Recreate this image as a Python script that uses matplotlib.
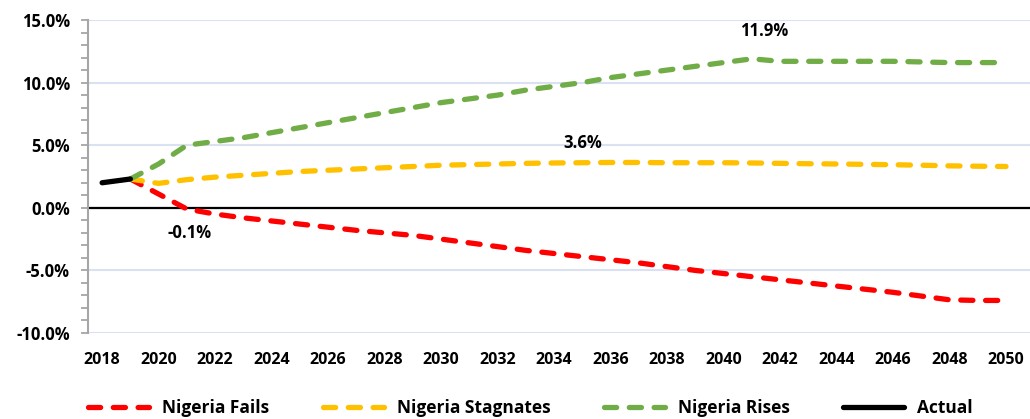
import matplotlib
matplotlib.use("Agg")
import matplotlib.pyplot as plt
from matplotlib.ticker import MultipleLocator, FuncFormatter
from matplotlib.lines import Line2D

plt.rcParams['font.family'] = ['Open Sans', 'DejaVu Sans']
plt.rcParams['font.weight'] = 'bold'

years = list(range(2019, 2051))
actual_years = [2018, 2019]
actual = [2.0, 2.3]

fails = [2.3, 1.1, -0.1, -0.5, -0.8, -1.05, -1.3, -1.55, -1.8, -2.0, -2.2, -2.5,
         -2.8, -3.1, -3.4, -3.65, -3.9, -4.15, -4.4, -4.7, -5.0, -5.25, -5.5,
         -5.75, -6.0, -6.25, -6.5, -6.75, -7.05, -7.35, -7.4, -7.4]
stagnates = [2.3, 1.95, 2.25, 2.45, 2.6, 2.75, 2.9, 3.0, 3.1, 3.2, 3.3, 3.4,
             3.45, 3.5, 3.55, 3.58, 3.6, 3.62, 3.62, 3.6, 3.6, 3.6, 3.58,
             3.55, 3.52, 3.5, 3.47, 3.44, 3.4, 3.35, 3.32, 3.3]
rises = [2.3, 3.5, 5.0, 5.3, 5.6, 6.0, 6.4, 6.8, 7.2, 7.6, 8.0, 8.4, 8.7,
         9.0, 9.4, 9.7, 10.0, 10.4, 10.7, 11.0, 11.3, 11.6, 11.9, 11.7, 11.7,
         11.7, 11.7, 11.7, 11.65, 11.6, 11.6, 11.6]

labels = ["Nigeria Fails", "Nigeria Stagnates", "Nigeria Rises", "Actual"]
colors = ["#FF0000", "#FFC000", "#70AD47", "#000000"]
xticks = list(range(2018, 2051, 2))

W, H = 1030, 419
fig = plt.figure(figsize=(W / 100, H / 100), dpi=100)
left, right, top, bottom = 88, 1030, 20, 333
ax = fig.add_axes([left / W, (H - bottom) / H, (right - left) / W, (bottom - top) / H])

lw = 3.8
dash = (2.3, 2.4)
for vals, c in zip([fails, stagnates, rises], colors[:3]):
    ax.plot(years, vals, color=c, lw=lw, linestyle=(0, dash),
            dash_capstyle='round', solid_capstyle='round', zorder=3)
ax.plot(actual_years, actual, color=colors[3], lw=lw, solid_capstyle='round', zorder=4)

ax.set_xlim(2017.5, 2050.85)
ax.set_ylim(-10, 15)
ax.yaxis.set_major_locator(MultipleLocator(5))
ax.yaxis.set_minor_locator(MultipleLocator(1))
ax.yaxis.set_major_formatter(FuncFormatter(lambda v, p: f"{v:.1f}%"))
ax.set_xticks(xticks)
ax.set_xticklabels([str(x) for x in xticks])

ax.grid(axis='y', which='major', color='#D9E1F2', lw=1.5, zorder=1)
ax.axhline(0, color='black', lw=1.6, zorder=2)

for s in ['top', 'right', 'bottom']:
    ax.spines[s].set_visible(False)
ax.spines['left'].set_color('#A6A6A6')
ax.spines['left'].set_linewidth(1.5)
ax.tick_params(axis='y', which='both', length=5, width=1.3, color='#A6A6A6',
               labelsize=12, pad=8)
ax.tick_params(axis='x', length=0, labelsize=11.5, pad=14)
for t in ax.get_xticklabels() + ax.get_yticklabels():
    t.set_fontweight('bold')

ax.annotate("11.9%", (2041, 11.9), xytext=(9, 20), textcoords='offset points',
            ha='center', va='center', fontsize=12, fontweight='bold')
ax.annotate("3.6%", (2035, 3.6), xytext=(0, 14), textcoords='offset points',
            ha='center', va='center', fontsize=12, fontweight='bold')
ax.annotate("-0.1%", (2021, -0.1), xytext=(2, -17), textcoords='offset points',
            ha='center', va='center', fontsize=12, fontweight='bold')

handles = []
for i, (lab, c) in enumerate(zip(labels, colors)):
    if i < 3:
        h = Line2D([], [], color=c, lw=lw, linestyle=(0, dash), dash_capstyle='round')
    else:
        h = Line2D([], [], color=c, lw=lw, solid_capstyle='round')
    handles.append(h)
leg = fig.legend(handles, labels, loc='center', bbox_to_anchor=(0.515, (H - 408) / H),
                 ncol=4, frameon=False, handlelength=3.5, handletextpad=0.75,
                 columnspacing=3.1, prop={'weight': 'bold', 'size': 12.5})

fig.savefig("out.png", dpi=100)
